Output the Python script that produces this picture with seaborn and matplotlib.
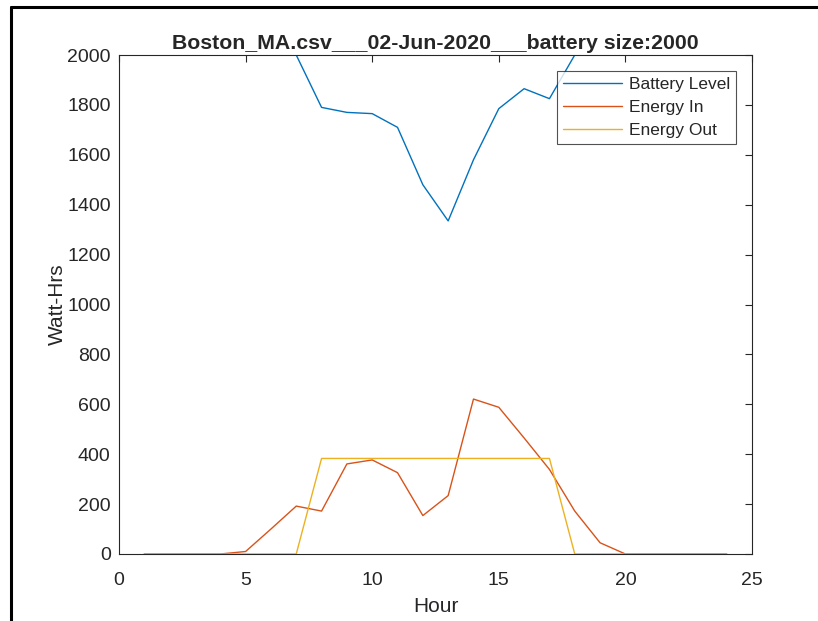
import numpy as np
import pandas as pd
import matplotlib
matplotlib.use('Agg')
import matplotlib.pyplot as plt
from matplotlib.lines import Line2D
import seaborn as sns

# hourly values
hours = list(range(1, 25))
battery_level = [2000, 2000, 2000, 2000, 2000, 2000, 2000, 1790, 1770, 1765, 1710, 1480,
                 1335, 1580, 1785, 1865, 1825, 2000, 2000, 2000, 2000, 2000, 2000, 2000]
energy_in = [0, 0, 0, 0, 10, 100, 192, 172, 361, 377, 326, 154,
             234, 621, 588, 465, 339, 172, 45, 0, 0, 0, 0, 0]
energy_out = [0, 0, 0, 0, 0, 0, 0, 383, 383, 383, 383, 383,
              383, 383, 383, 383, 383, 0, 0, 0, 0, 0, 0, 0]
series_names = ['Battery Level', 'Energy In', 'Energy Out']
colors = ['#0072BD', '#D95319', '#EDB120']

df = pd.DataFrame({'Hour': hours * 3,
                   'Watt-Hrs': battery_level + energy_in + energy_out,
                   'series': np.repeat(series_names, len(hours))})

sns.set_style('white')
plt.rcParams['font.family'] = ['Liberation Sans', 'DejaVu Sans']

fig = plt.figure(figsize=(8.18, 6.21), dpi=100)
ax = fig.add_axes([119 / 818, 1 - 554 / 621, (752 - 119) / 818, (554 - 55) / 621])

sns.lineplot(data=df, x='Hour', y='Watt-Hrs', hue='series', palette=colors,
             linewidth=1.0, ax=ax)

ax.set_xlim(0, 25)
ax.set_ylim(0, 2000)
ax.set_xticks([0, 5, 10, 15, 20, 25])
ax.set_yticks(range(0, 2001, 200))
ax.tick_params(direction='in', length=5, width=0.8, color='#262626',
               labelsize=14, labelcolor='#262626', top=True, right=True)
ax.tick_params(axis='x', pad=13)
ax.tick_params(axis='y', pad=6)
for sp in ax.spines.values():
    sp.set_color('#262626')
    sp.set_linewidth(0.8)
ax.set_xlabel('Hour', fontsize=15, color='#262626', labelpad=6)
ax.set_ylabel('Watt-Hrs', fontsize=15, color='#262626', labelpad=0)
ax.set_title('Boston_MA.csv___02-Jun-2020___battery size:2000',
             fontsize=15.3, fontweight='bold', pad=4)

leg = ax.legend(loc='upper right', bbox_to_anchor=(0.975, 0.968), fontsize=12.5,
                frameon=True, fancybox=False, edgecolor='#262626', borderaxespad=0,
                handlelength=3.4, borderpad=0.35, labelspacing=0.44, handletextpad=0.4)
leg.get_frame().set_linewidth(0.8)

# black border lines at top and left of the screenshot
fig.add_artist(Line2D([11 / 818, 1], [1 - 7 / 621, 1 - 7 / 621], color='black', lw=2.2,
                      transform=fig.transFigure))
fig.add_artist(Line2D([11 / 818, 11 / 818], [0, 1 - 7 / 621], color='black', lw=2.2,
                      transform=fig.transFigure))

fig.savefig('out.png', dpi=100)
